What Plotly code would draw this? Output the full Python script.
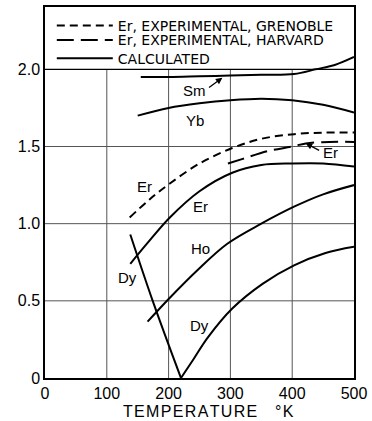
import plotly.graph_objects as go

# ---- data (temperature in K, g value) ----
sm_T = [155, 200, 250, 300, 350, 403, 438, 470, 500]
sm_g = [1.95, 1.95, 1.955, 1.96, 1.965, 1.97, 2.00, 2.03, 2.08]

yb_T = [150, 200, 250, 300, 350, 400, 450, 500]
yb_g = [1.70, 1.75, 1.78, 1.80, 1.81, 1.80, 1.77, 1.72]

er_gren_T = [137, 170, 202, 250, 303, 350, 403, 450, 500]
er_gren_g = [1.04, 1.16, 1.26, 1.39, 1.49, 1.55, 1.58, 1.59, 1.59]

er_harv_T = [296, 320, 360, 400, 422, 460, 500]
er_harv_g = [1.39, 1.42, 1.47, 1.50, 1.52, 1.53, 1.53]

er_calc_T = [138, 167, 202, 250, 303, 350, 400, 450, 500]
er_calc_g = [0.74, 0.88, 1.04, 1.21, 1.33, 1.38, 1.39, 1.39, 1.37]

ho_T = [166, 202, 247, 295, 350, 403, 450, 500]
ho_g = [0.365, 0.52, 0.70, 0.87, 1.00, 1.11, 1.19, 1.25]

dy_low_T = [138, 176, 220]
dy_low_g = [0.93, 0.48, 0.0]

dy_high_T = [220, 240, 263, 303, 352, 403, 454, 500]
dy_high_g = [0.0, 0.12, 0.26, 0.45, 0.61, 0.73, 0.81, 0.85]

x_ticks = [0, 100, 200, 300, 400, 500]
y_ticks = [0, 0.5, 1.0, 1.5, 2.0]
y_tick_text = ["0", "0.5", "1.0", "1.5", "2.0"]

legend_names = ["Er, EXPERIMENTAL, GRENOBLE", "Er, EXPERIMENTAL, HARVARD", "CALCULATED"]

FONT = "Liberation Sans"
LFONT = "DejaVu Sans"
LW = 2

fig = go.Figure()

fig.add_trace(go.Scatter(x=er_gren_T, y=er_gren_g, mode="lines", name=legend_names[0],
                         legend="legend",
                         line=dict(color="black", width=LW, dash="8px,5px", shape="spline")))
fig.add_trace(go.Scatter(x=er_harv_T, y=er_harv_g, mode="lines", name=legend_names[1],
                         legend="legend2",
                         line=dict(color="black", width=LW, dash="17px,7px", shape="spline")))
calc = [(sm_T, sm_g), (yb_T, yb_g), (er_calc_T, er_calc_g), (ho_T, ho_g),
        (dy_low_T, dy_low_g), (dy_high_T, dy_high_g)]
for i, (xs, ys) in enumerate(calc):
    fig.add_trace(go.Scatter(x=xs, y=ys, mode="lines", name=legend_names[2],
                             showlegend=(i == 0), legend="legend3",
                             line=dict(color="black", width=LW, shape="spline")))

# grid lines (only up to g = 2.0, area above is the legend box)
shapes = []
for xv in x_ticks[1:-1]:
    shapes.append(dict(type="line", xref="x", yref="y", x0=xv, x1=xv, y0=0, y1=y_ticks[-1],
                       line=dict(color="#555", width=1), layer="below"))
for yv in y_ticks[1:]:
    shapes.append(dict(type="line", xref="x", yref="y", x0=0, x1=500, y0=yv, y1=yv,
                       line=dict(color="black" if yv == y_ticks[-1] else "#555",
                                 width=1.2 if yv == y_ticks[-1] else 1), layer="below"))

lab = dict(size=15, family=FONT, color="black")
hs = "\u200a"
annotations = [
    dict(x=242, y=1.86, text="Sm", showarrow=False, font=lab),
    dict(x=287, y=1.945, ax=263, ay=1.875, axref="x", ayref="y", text="", showarrow=True,
         arrowhead=2, arrowsize=1, arrowwidth=1.3, arrowcolor="black"),
    dict(x=243, y=1.67, text="Yb", showarrow=False, font=lab),
    dict(x=161, y=1.24, text="Er", showarrow=False, font=lab),
    dict(x=252, y=1.11, text="Er", showarrow=False, font=lab),
    dict(x=462, y=1.46, text="Er", showarrow=False, font=lab),
    dict(x=422, y=1.52, ax=446, ay=1.47, axref="x", ayref="y", text="", showarrow=True,
         arrowhead=2, arrowsize=1, arrowwidth=1.3, arrowcolor="black"),
    dict(x=252, y=0.84, text="Ho", showarrow=False, font=lab),
    dict(x=133, y=0.65, text="Dy", showarrow=False, font=lab),
    dict(x=250, y=0.34, text="Dy", showarrow=False, font=lab),
    dict(x=-51, y=1.19, text="g", showarrow=False, font=dict(size=16, family=FONT, color="black")),
    dict(x=264, y=-0.091, xref="x", yref="paper", yanchor="middle",
         text=hs.join("TEMPERATURE") + "    " + hs.join("°K"), showarrow=False,
         font=dict(size=16, family=FONT, color="black")),
]
for a in annotations:
    a.setdefault("xref", "x")
    a.setdefault("yref", "y")

leg_common = dict(xanchor="left", yanchor="middle", bgcolor="rgba(0,0,0,0)",
                  font=dict(size=14, family=LFONT, color="black"), itemwidth=56,
                  borderwidth=0)

fig.update_layout(
    width=372, height=421,
    margin=dict(l=45, r=13, t=5, b=43),
    paper_bgcolor="white", plot_bgcolor="white",
    showlegend=True,
    legend=dict(x=0.022, y=0.949, **leg_common),
    legend2=dict(x=0.022, y=0.910, **leg_common),
    legend3=dict(x=0.022, y=0.861, **leg_common),
    shapes=shapes,
    annotations=annotations,
    xaxis=dict(range=[0, 500], tickvals=x_ticks, showgrid=False, zeroline=False,
               showline=True, linecolor="black", linewidth=1.5, mirror=True,
               ticks="", ticklabeloverflow="allow",
               tickfont=dict(size=16, family=FONT, color="black")),
    yaxis=dict(range=[0, 2.404], tickvals=y_ticks, ticktext=y_tick_text, showgrid=False,
               zeroline=False, showline=True, linecolor="black", linewidth=1.5, mirror=True,
               ticks="", tickfont=dict(size=16, family=FONT, color="black")),
)

fig.write_html("out.html", config={"displayModeBar": False},
               post_script="document.body.style.margin='0px';")
